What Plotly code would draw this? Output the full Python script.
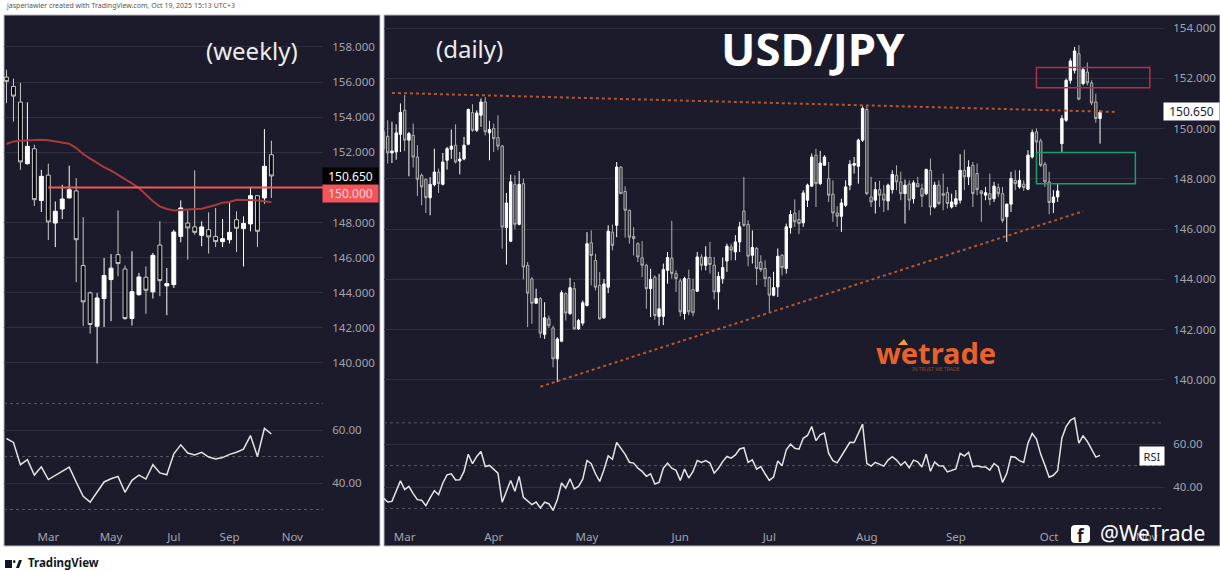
import pandas as pd
import plotly.graph_objects as go

FIG_W = 1220
FIG_H = 571

# weekly candles, first week is 20 Jan 2025
weekly_start = "2025-01-20"
weekly_open = [156.28, 155.75, 154.86, 151.35, 152.20, 149.25, 150.70, 147.97, 148.77, 149.40,
               149.80, 145.55, 143.99, 142.09, 143.67, 144.75, 146.17, 145.35, 142.53, 143.89,
               144.88, 144.05, 146.72, 144.39, 144.46, 147.21, 147.97, 147.75, 147.27, 147.59,
               147.21, 146.91, 147.02, 148.16, 147.65, 147.92, 149.53, 149.40, 151.86]
weekly_high = [156.70, 156.20, 155.95, 154.85, 152.43, 151.00, 151.35, 149.20, 150.15, 151.24,
               150.53, 148.30, 144.08, 143.99, 145.98, 146.20, 148.69, 145.55, 146.36, 145.13,
               145.50, 146.27, 148.07, 145.41, 147.59, 149.26, 148.69, 150.97, 148.07, 148.58,
               148.83, 148.20, 149.11, 148.64, 148.35, 149.97, 149.55, 153.32, 152.66]
weekly_low = [154.80, 153.75, 151.00, 151.30, 148.95, 148.60, 147.00, 146.60, 148.20, 149.38,
              144.60, 142.10, 141.67, 139.97, 142.05, 142.38, 144.94, 142.45, 142.13, 143.83,
              142.80, 143.67, 143.80, 142.72, 144.27, 146.87, 145.89, 147.31, 146.65, 146.23,
              146.60, 146.60, 146.80, 146.32, 145.50, 147.50, 146.60, 149.07, 149.40]
weekly_close = [156.04, 155.20, 151.45, 152.34, 149.30, 150.63, 148.03, 148.64, 149.34, 149.87,
                147.02, 143.48, 142.19, 143.70, 144.98, 145.40, 145.66, 142.53, 144.06, 144.90,
                144.14, 146.13, 144.69, 144.52, 147.46, 148.83, 147.69, 147.44, 147.75, 147.18,
                146.91, 147.08, 147.44, 147.67, 147.95, 149.53, 147.50, 151.20, 150.65]
weekly_ma = [152.47, 152.62, 152.66, 152.68, 152.70, 152.72, 152.68, 152.62, 152.57, 152.49,
             152.24, 151.90, 151.64, 151.39, 151.16, 150.95, 150.72, 150.48, 150.23, 149.97,
             149.59, 149.21, 148.92, 148.77, 148.69, 148.73, 148.77, 148.77, 148.79, 148.88,
             149.00, 149.13, 149.17, 149.30, 149.30, 149.30, 149.26, 149.21, 149.15]
weekly_rsi = [56.8, 55.3, 46.9, 48.8, 43.0, 46.1, 41.3, 42.9, 44.5, 46.0,
              40.4, 35.0, 32.8, 36.6, 40.4, 41.6, 42.5, 36.5, 41.0, 43.0,
              41.5, 46.9, 43.8, 43.1, 51.0, 54.4, 51.3, 50.6, 51.6, 49.8,
              49.1, 49.6, 50.8, 51.6, 52.8, 57.9, 50.0, 60.6, 58.5]

# daily candles, business days from 24 Feb 2025
daily_start = "2025-02-24"
daily_open = [149.87, 149.69, 149.03, 149.07, 149.77, 150.73, 149.54, 149.73, 148.87, 148.14,
              147.98, 147.25, 147.77, 148.27, 147.78, 148.74, 149.18, 149.34, 148.71, 148.79,
              149.38, 150.64, 149.93, 150.53, 151.06, 149.83, 150.00, 149.64, 149.31, 146.06,
              145.52, 147.78, 146.19, 147.81, 144.56, 144.02, 143.05, 143.23, 141.81, 142.43,
              142.07, 140.84, 141.54, 143.43, 142.63, 143.63, 142.03, 142.26, 142.96, 145.46,
              144.75, 143.76, 142.47, 143.69, 145.88, 146.15, 148.47, 147.50, 146.75, 145.71,
              145.42, 144.86, 144.56, 143.63, 144.09, 142.52, 142.53, 144.36, 144.85, 144.23,
              143.94, 142.64, 144.03, 143.59, 143.53, 144.89, 144.56, 144.87, 144.56, 143.50,
              144.03, 144.73, 145.29, 145.09, 145.49, 146.72, 146.19, 144.96, 145.23, 144.69,
              144.43, 144.07, 143.37, 143.70, 144.96, 144.43, 146.06, 146.64, 146.38, 146.25,
              147.15, 147.71, 148.94, 147.81, 148.54, 148.01, 147.39, 146.64, 146.51, 146.95,
              147.75, 148.54, 148.50, 149.54, 150.76, 147.28, 147.15, 147.57, 147.39, 147.12,
              147.57, 148.14, 147.88, 147.41, 147.79, 147.21, 147.81, 147.61, 147.41, 148.34,
              146.88, 147.75, 147.41, 147.45, 146.88, 146.99, 147.15, 148.34, 148.08, 148.54,
              148.21, 147.52, 147.35, 147.41, 147.21, 147.65, 147.41, 146.49, 146.99, 147.94,
              147.68, 147.79, 147.59, 148.87, 149.87, 149.51, 148.58, 147.88, 147.06, 147.28,
              149.40, 150.33, 151.92, 152.32, 152.98, 151.79, 152.25, 151.82, 151.06, 150.40]
daily_high = [150.20, 150.33, 150.27, 150.17, 151.00, 151.33, 149.87, 150.20, 149.34, 148.21,
              148.01, 148.07, 149.20, 148.41, 149.03, 149.27, 149.96, 150.17, 149.07, 149.67,
              150.80, 150.97, 150.73, 151.20, 151.26, 150.31, 150.20, 150.53, 149.34, 147.44,
              148.17, 148.14, 148.31, 148.01, 144.69, 144.09, 143.63, 143.29, 143.09, 142.56,
              142.16, 141.70, 143.56, 143.49, 144.06, 143.89, 142.43, 143.16, 145.88, 145.95,
              145.02, 144.29, 144.02, 146.15, 146.18, 148.67, 148.50, 147.70, 146.77, 146.08,
              145.48, 145.52, 144.62, 144.42, 144.16, 144.22, 144.63, 145.09, 146.33, 144.36,
              144.03, 144.10, 144.39, 144.03, 145.09, 145.00, 145.32, 145.49, 144.89, 144.30,
              144.87, 145.42, 145.42, 145.76, 146.29, 148.08, 146.35, 145.95, 145.29, 144.96,
              144.76, 144.12, 144.30, 145.23, 145.00, 146.22, 146.75, 147.18, 146.75, 147.55,
              147.81, 149.01, 149.20, 149.11, 148.94, 148.67, 147.94, 146.91, 147.21, 147.94,
              148.74, 148.87, 149.60, 150.89, 150.89, 148.08, 147.88, 147.92, 147.75, 147.81,
              148.34, 148.54, 148.28, 147.97, 147.94, 147.94, 148.08, 147.81, 148.41, 148.81,
              147.88, 147.94, 148.21, 147.68, 147.41, 147.55, 148.98, 149.16, 148.74, 148.67,
              148.61, 147.55, 147.68, 148.21, 147.88, 147.81, 147.68, 147.02, 148.28, 148.34,
              148.34, 147.94, 149.14, 149.96, 150.00, 149.60, 148.67, 148.28, 147.55, 147.81,
              150.53, 151.99, 152.79, 153.25, 153.32, 152.43, 152.63, 151.92, 151.39, 150.73]
daily_low = [148.74, 148.61, 148.63, 148.76, 149.07, 149.10, 148.10, 148.45, 147.32, 146.95,
             146.64, 146.55, 147.70, 147.44, 147.74, 148.37, 148.80, 148.61, 148.18, 148.74,
             149.34, 149.87, 149.87, 150.07, 149.73, 148.74, 149.07, 149.14, 145.22, 144.59,
             145.48, 145.99, 146.15, 144.00, 142.10, 142.23, 143.03, 141.67, 141.63, 142.07,
             140.50, 139.91, 141.50, 142.36, 142.60, 141.99, 141.99, 142.16, 142.92, 143.76,
             143.56, 142.39, 142.43, 143.45, 145.15, 145.68, 147.41, 145.66, 145.42, 144.95,
             144.69, 144.09, 142.83, 142.50, 142.39, 142.16, 142.18, 143.83, 144.03, 143.50,
             142.53, 142.40, 142.57, 142.53, 143.50, 144.36, 144.36, 144.23, 143.20, 142.80,
             143.83, 144.30, 144.76, 144.76, 145.09, 146.09, 144.52, 144.63, 143.77, 144.30,
             143.70, 142.71, 143.33, 143.30, 144.16, 144.23, 145.82, 146.09, 145.80, 146.09,
             146.88, 147.68, 146.88, 147.75, 148.54, 147.08, 146.29, 146.09, 145.89, 146.88,
             147.55, 148.21, 147.81, 149.47, 147.35, 146.88, 146.62, 146.88, 146.68, 146.75,
             147.41, 147.55, 147.15, 146.22, 146.75, 147.02, 147.68, 146.88, 147.35, 146.55,
             146.82, 146.95, 146.75, 146.82, 146.82, 146.88, 147.02, 147.55, 147.75, 146.88,
             147.35, 146.29, 147.15, 146.95, 147.08, 147.28, 146.25, 145.49, 146.68, 147.55,
             147.61, 147.52, 147.55, 148.81, 149.01, 148.47, 147.68, 146.59, 146.64, 147.08,
             149.07, 150.27, 151.79, 152.19, 151.13, 151.72, 151.72, 150.93, 150.23, 149.40]
daily_close = [149.20, 149.03, 149.11, 149.83, 150.64, 149.54, 149.80, 148.87, 147.98, 147.68,
               147.25, 147.78, 148.27, 147.81, 148.67, 149.20, 149.30, 148.67, 148.79, 149.34,
               150.76, 149.93, 150.62, 151.06, 149.87, 149.96, 149.60, 149.30, 146.08, 147.04,
               147.88, 146.19, 147.78, 144.49, 143.45, 143.05, 143.24, 141.86, 142.47, 142.16,
               140.84, 141.63, 143.47, 142.66, 143.67, 142.03, 142.36, 143.07, 145.42, 144.95,
               143.69, 142.43, 143.82, 145.92, 145.35, 148.47, 147.41, 146.75, 145.68, 145.62,
               144.89, 144.56, 143.63, 144.00, 142.56, 142.83, 144.39, 144.87, 144.23, 144.03,
               142.71, 144.03, 142.71, 142.67, 144.89, 144.56, 144.89, 144.59, 143.50, 144.12,
               144.47, 145.32, 145.16, 145.49, 146.09, 146.15, 144.92, 145.27, 144.43, 144.39,
               144.03, 143.37, 143.67, 144.92, 144.47, 146.09, 146.58, 146.29, 146.22, 147.44,
               147.75, 148.87, 147.81, 148.63, 148.87, 147.35, 146.64, 146.51, 147.04, 147.68,
               148.58, 148.61, 149.54, 150.80, 147.41, 147.08, 147.57, 147.35, 147.15, 147.75,
               148.18, 147.88, 147.41, 147.75, 147.15, 147.84, 147.68, 147.31, 148.37, 146.88,
               147.75, 147.02, 147.35, 147.02, 147.08, 147.21, 148.34, 148.08, 148.47, 147.41,
               147.57, 147.41, 147.45, 147.18, 147.71, 147.41, 146.35, 146.99, 148.01, 147.81,
               147.94, 147.65, 148.94, 149.84, 149.47, 148.54, 147.88, 147.06, 147.28, 147.52,
               150.40, 151.92, 152.69, 153.09, 151.17, 152.35, 151.82, 151.02, 150.40, 150.65]
daily_rsi = [34.9, 33.0, 33.3, 38.0, 42.9, 38.8, 40.3, 36.9, 34.1, 33.8,
             31.3, 34.9, 38.3, 36.4, 41.9, 45.7, 46.2, 43.3, 43.4, 47.3,
             55.3, 50.9, 54.3, 56.6, 49.6, 50.1, 48.4, 46.5, 32.9, 38.3,
             43.1, 38.0, 45.0, 35.2, 33.3, 31.8, 33.0, 30.2, 32.9, 32.2,
             29.1, 34.1, 41.9, 39.5, 43.9, 39.1, 40.3, 43.7, 52.4, 50.9,
             46.2, 42.6, 48.1, 54.6, 53.0, 60.9, 58.1, 55.3, 51.6, 51.2,
             48.8, 47.3, 45.0, 46.2, 41.4, 42.2, 48.8, 51.2, 48.8, 47.8,
             43.1, 48.4, 44.2, 47.3, 52.4, 51.5, 52.4, 51.2, 46.5, 48.8,
             51.9, 54.3, 53.5, 55.0, 57.8, 58.4, 51.5, 52.7, 48.4, 49.6,
             46.2, 43.1, 44.7, 52.2, 49.9, 57.4, 60.0, 58.1, 57.7, 62.8,
             64.1, 68.3, 61.7, 64.4, 65.2, 55.7, 52.3, 51.3, 54.5, 57.6,
             60.9, 60.8, 64.9, 69.4, 51.0, 49.8, 51.5, 50.7, 49.8, 52.6,
             54.2, 52.6, 50.2, 51.8, 49.0, 52.6, 51.8, 49.4, 55.4, 47.4,
             51.7, 49.9, 49.8, 47.1, 47.9, 48.5, 55.7, 54.5, 56.2, 49.4,
             49.9, 49.4, 49.4, 47.9, 51.0, 49.4, 42.2, 46.3, 54.2, 53.9,
             52.3, 51.5, 60.5, 65.0, 62.4, 55.4, 50.2, 44.6, 45.5, 47.6,
             62.8, 68.3, 71.2, 72.3, 60.5, 63.9, 61.3, 57.6, 54.0, 54.8]

# drawings on the charts
level_dates = ["2025-03-03", "2025-12-03 20:00"]
level_price = [150.0, 150.0]
upper_trend_dates = ["2025-02-26", "2025-10-23"]
upper_trend_price = [151.42, 150.66]
lower_trend_dates = ["2025-04-16", "2025-10-13"]
lower_trend_price = [139.73, 146.71]
red_box_dates = ["2025-09-26", "2025-11-03 18:00"]
red_box_price = [151.63, 152.43]
green_box_dates = ["2025-09-26", "2025-10-29 08:00"]
green_box_price = [147.81, 149.05]

# 150 on the weekly axis sits under the red price tag
weekly_prices = [140, 142, 144, 146, 148, 152, 154, 156, 158]
daily_prices = [140, 142, 144, 146, 148, 150, 152, 154]
rsi_labels = [40, 60]
rsi_levels = [30, 50, 70]
weekly_ticks = ["2025-03-03", "2025-05-05", "2025-07-07", "2025-09-01", "2025-11-03"]
weekly_tick_text = ["Mar", "May", "Jul", "Sep", "Nov"]
daily_ticks = ["2025-03-03", "2025-04-01", "2025-05-01", "2025-06-02", "2025-07-01",
               "2025-08-01", "2025-09-01", "2025-10-01", "2025-11-03"]
daily_tick_text = ["Mar", "Apr", "May", "Jun", "Jul", "Aug", "Sep", "Oct", "Nov"]

PANE = "#1b1b2b"
GRID = "#2f2f40"
TICK = "#a3a3ad"
FONT = "Noto Sans"

weekly_dates = pd.date_range(weekly_start, periods=len(weekly_open), freq="7D")
daily_dates = pd.bdate_range(daily_start, periods=len(daily_open))


def px_x(v):
    return v / FIG_W


def px_y(v):
    return 1 - v / FIG_H


def candles(dates, o, h, l, c, down_line, down_fill, xa, ya):
    return go.Candlestick(
        x=dates, open=o, high=h, low=l, close=c, xaxis=xa, yaxis=ya,
        increasing=dict(line=dict(color="#ffffff", width=1), fillcolor="#ffffff"),
        decreasing=dict(line=dict(color=down_line, width=1), fillcolor=down_fill),
        whiskerwidth=0, showlegend=False, hoverinfo="skip",
    )


fig = go.Figure()
fig.add_trace(candles(weekly_dates, weekly_open, weekly_high, weekly_low, weekly_close,
                      "#c8c8c8", "#08080e", "x", "y"))
fig.add_trace(go.Scatter(x=weekly_dates, y=weekly_ma, mode="lines", xaxis="x", yaxis="y", showlegend=False,
                         line=dict(color="#a83c3c", width=2)))
fig.add_trace(go.Scatter(x=level_dates, y=level_price, mode="lines", xaxis="x", yaxis="y", showlegend=False,
                         line=dict(color="#f05a5a", width=2)))
fig.add_trace(go.Scatter(x=weekly_dates, y=weekly_rsi, mode="lines", xaxis="x2", yaxis="y2", showlegend=False,
                         line=dict(color="#e4e4e4", width=1.5)))

fig.add_trace(candles(daily_dates, daily_open, daily_high, daily_low, daily_close,
                      "#b0b0b0", "#3a3a44", "x3", "y3"))
for dates, prices in [(upper_trend_dates, upper_trend_price), (lower_trend_dates, lower_trend_price)]:
    fig.add_trace(go.Scatter(x=dates, y=prices, mode="lines", xaxis="x3", yaxis="y3", showlegend=False,
                             line=dict(color="#b4572f", width=2, dash="dot")))
fig.add_trace(go.Scatter(x=daily_dates, y=daily_rsi, mode="lines", xaxis="x4", yaxis="y4", showlegend=False,
                         line=dict(color="#e4e4e4", width=1.5)))

shapes = [
    # dark panes
    dict(type="rect", xref="paper", yref="paper", layer="below", x0=px_x(4), x1=px_x(380), y0=px_y(546), y1=px_y(15),
         fillcolor=PANE, line=dict(color="#b8b8c0", width=1)),
    dict(type="rect", xref="paper", yref="paper", layer="below", x0=px_x(384), x1=px_x(1220), y0=px_y(546), y1=px_y(15),
         fillcolor=PANE, line=dict(color="#b8b8c0", width=1)),
    # boxes on the daily chart
    dict(type="rect", xref="x3", yref="y3", x0=red_box_dates[0], x1=red_box_dates[1],
         y0=red_box_price[0], y1=red_box_price[1], line=dict(color="#b52e52", width=1.5)),
    dict(type="rect", xref="x3", yref="y3", x0=green_box_dates[0], x1=green_box_dates[1],
         y0=green_box_price[0], y1=green_box_price[1], line=dict(color="#1a9e6a", width=1.5)),
    # facebook badge
    dict(type="path", xref="paper", yref="paper", fillcolor="#ffffff", line=dict(width=0),
         path=f"M {px_x(1075)} {px_y(525)} L {px_x(1086)} {px_y(525)} Q {px_x(1090)} {px_y(525)} {px_x(1090)} {px_y(529)} "
              f"L {px_x(1090)} {px_y(539)} Q {px_x(1090)} {px_y(543)} {px_x(1086)} {px_y(543)} L {px_x(1075)} {px_y(543)} "
              f"Q {px_x(1071)} {px_y(543)} {px_x(1071)} {px_y(539)} L {px_x(1071)} {px_y(529)} Q {px_x(1071)} {px_y(525)} {px_x(1075)} {px_y(525)} Z"),
    # wetrade arrow
    dict(type="path", xref="paper", yref="paper", fillcolor="#f0a030", line=dict(width=0),
         path=f"M {px_x(898)} {px_y(345)} L {px_x(904)} {px_y(339)} L {px_x(908)} {px_y(345)} Z"),
    # tradingview mark
    dict(type="rect", xref="paper", yref="paper", fillcolor="#131722", line=dict(width=0),
         x0=px_x(5), x1=px_x(12), y0=px_y(568), y1=px_y(560)),
    dict(type="circle", xref="paper", yref="paper", fillcolor="#131722", line=dict(width=0),
         x0=px_x(13), x1=px_x(15.5), y0=px_y(563), y1=px_y(560)),
    dict(type="path", xref="paper", yref="paper", fillcolor="#131722", line=dict(width=0),
         path=f"M {px_x(16)} {px_y(568)} L {px_x(19)} {px_y(560)} L {px_x(22)} {px_y(560)} L {px_x(19)} {px_y(568)} Z"),
]
for level in rsi_levels:
    for xref, yref in [("x2 domain", "y2"), ("x4 domain", "y4")]:
        shapes.append(dict(type="line", xref=xref, yref=yref, x0=0, x1=1, y0=level, y1=level, layer="below",
                           line=dict(color="#575763", width=1, dash="3px,3px")))


def note(text, x, y, size, color, bold=False, anchor="center", bg=None, w=None, h=None):
    return dict(text=f"<b>{text}</b>" if bold else text, xref="paper", yref="paper", x=px_x(x), y=px_y(y),
                xanchor=anchor, yanchor="middle", showarrow=False, bgcolor=bg, borderpad=0, width=w, height=h,
                font=dict(family=FONT, size=size, color=color))


annotations = [
    note("jasperlawler created with TradingView.com, Oct 19, 2025 15:13 UTC+3", 5, 6, 7, "#555555", anchor="left"),
    note("(weekly)", 252, 51, 24, "#ececec"),
    note("(daily)", 469, 49, 24, "#ececec"),
    note("USD/JPY", 813, 48, 45.5, "#ffffff", bold=True),
    note("150.650", 350.5, 176.5, 12, "#ffffff", bg="#000000", w=55, h=17),
    note("150.000", 350.5, 193.5, 12, "#ffd6d6", bg="#f2555a", w=55, h=17),
    note("150.650", 1191.5, 111.5, 12, "#1b1b2b", bg="#ffffff", w=55, h=17),
    note("RSI", 1152, 456, 11, "#1b1b2b", bg="#ffffff", w=24, h=18),
    note("wetrade", 936, 352, 29, "#e8622a", bold=True, w=124, h=25),
    note("IN TRUST WE TRADE", 936, 368.5, 5, "#9a4a26"),
    note("f", 1081, 535, 17, PANE, bold=True),
    note("@WeTrade", 1152, 533, 21, "#ffffff"),
    note("TradingView", 27, 562.5, 11.5, "#131722", bold=True, anchor="left"),
]

axis_base = dict(showline=False, zeroline=False, tickfont=dict(family=FONT, size=11.5, color=TICK))
y_base = dict(axis_base, side="right", ticks="outside", ticklen=6, tickcolor="rgba(0,0,0,0)",
              showgrid=True, gridcolor=GRID, gridwidth=1)
x_hidden = dict(axis_base, showgrid=False, showticklabels=False, ticks="", rangeslider=dict(visible=False))
x_shown = dict(axis_base, showgrid=False, ticks="outside", ticklen=6, tickcolor="rgba(0,0,0,0)")

weekly_range = ["2025-01-17 12:00", "2025-12-03 20:00"]
daily_range = ["2025-02-24 03:00", "2025-11-07 02:00"]
daily_breaks = [dict(bounds=["sat", "mon"])]

fig.update_layout(
    width=FIG_W, height=FIG_H, autosize=False,
    margin=dict(l=0, r=0, t=0, b=0),
    paper_bgcolor="#ffffff", plot_bgcolor="rgba(0,0,0,0)",
    showlegend=False, shapes=shapes, annotations=annotations, boxgap=0.2,
    xaxis=dict(x_hidden, domain=[px_x(4), px_x(323)], range=weekly_range, anchor="y"),
    yaxis=dict(y_base, domain=[px_y(400), px_y(15)], range=[137.89, 159.82], tickvals=weekly_prices,
               tickformat=".3f", anchor="x"),
    xaxis2=dict(x_shown, domain=[px_x(4), px_x(323)], range=weekly_range, anchor="y2",
                tickvals=weekly_ticks, ticktext=weekly_tick_text),
    yaxis2=dict(y_base, domain=[px_y(520), px_y(398)], range=[26.04, 72.08], tickvals=rsi_labels,
                tickformat=".2f", anchor="x2"),
    xaxis3=dict(x_hidden, domain=[px_x(384), px_x(1164)], range=daily_range, anchor="y3", rangebreaks=daily_breaks),
    yaxis3=dict(y_base, domain=[px_y(400), px_y(15)], range=[139.2, 154.52], tickvals=daily_prices,
                tickformat=".3f", anchor="x3"),
    xaxis4=dict(x_shown, domain=[px_x(384), px_x(1164)], range=daily_range, anchor="y4", rangebreaks=daily_breaks,
                tickvals=daily_ticks, ticktext=daily_tick_text),
    yaxis4=dict(y_base, domain=[px_y(520), px_y(410)], range=[24.6, 76.0], tickvals=rsi_labels,
                tickformat=".2f", anchor="x4"),
)

fig.write_html("out.html", config={"displayModeBar": False},
               post_script="document.body.style.margin='0';document.body.style.overflow='hidden';")
